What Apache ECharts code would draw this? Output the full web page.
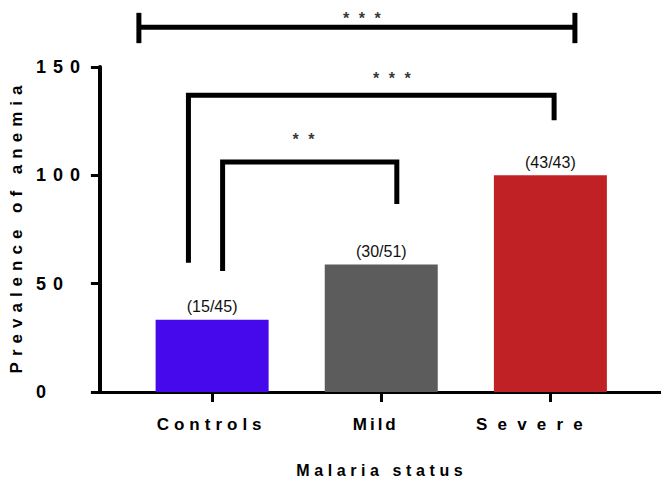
<!DOCTYPE html>
<html>
<head>
<meta charset="utf-8">
<script src="https://cdn.jsdelivr.net/npm/echarts@6/dist/echarts.min.js"></script>
<style>
  html, body { margin: 0; padding: 0; background: #fff; }
  #chart { width: 661px; height: 483px; }
</style>
</head>
<body>
<div id="chart"></div>
<script>
// ---- data ----
const categories = ['Controls', 'Mild', 'Severe'];
const anemicCounts = [15, 30, 43];
const groupTotals = [45, 51, 43];
const prevalence = [33.33, 58.82, 100];          // % anemic
const yTickValues = [0, 50, 100, 150];

// significance brackets, in data coordinates (x: category index, y: axis value)
const bracketLabels = ['***', '***', '**'];
const bracketPaths = [
  [ [[-0.433, 161], [-0.433, 175]], [[-0.433, 168.3], [2.145, 168.3]], [[2.145, 161], [2.145, 175]] ],
  [ [[-0.14, 59.7], [-0.14, 137.0], [2.022, 137.0], [2.022, 125.4]] ],
  [ [[0.062, 55.8], [0.062, 106.2], [1.092, 106.2], [1.092, 86.8]] ]
];
const bracketLabelAt = [[0.885, 172.2], [1.063, 144.6], [0.54, 116.7]];

// ---- styles ----
const barColors = ['#4609EB', '#5C5C5C', '#C02124'];
const FONT = '"Liberation Sans", Arial, Helvetica, sans-serif';

const chart = echarts.init(document.getElementById('chart'), null, { renderer: 'svg' });

const series = [];
series.push({
  type: 'bar',
  barWidth: 113,
  data: prevalence.map((v, i) => ({ value: [i, v], itemStyle: { color: barColors[i] } })),
  label: {
    show: true,
    position: 'top',
    distance: 5,
    fontFamily: FONT,
    fontSize: 16,
    color: '#111',
    formatter: p => '(' + anemicCounts[p.dataIndex] + '/' + groupTotals[p.dataIndex] + ')'
  },
  z: 2
});
bracketPaths.forEach(paths => {
  paths.forEach(seg => {
    series.push({
      type: 'line',
      data: seg,
      symbol: 'none',
      clip: false,
      silent: true,
      lineStyle: { color: '#000', width: 5, cap: 'butt', join: 'miter' },
      z: 3
    });
  });
});
series.push({
  type: 'scatter',
  symbolSize: 0,
  clip: false,
  silent: true,
  data: bracketLabelAt.map((p, i) => ({ value: [p[0], p[1]], name: bracketLabels[i] })),
  label: {
    show: true,
    position: 'inside',
    fontFamily: FONT,
    fontSize: 16,
    fontWeight: 'bold',
    color: '#000',
    formatter: p => p.name
  },
  z: 4
});

const axisText = { fontFamily: FONT, fontWeight: 'bold', color: '#000' };

chart.setOption({
  animation: false,
  textStyle: { fontFamily: FONT },
  grid: { left: 97, right: 0, top: 67, bottom: 87 },
  xAxis: {
    type: 'value',
    min: -0.6635,
    max: 2.654,
    name: 'Malaria status',
    nameLocation: 'middle',
    nameGap: 70,
    nameTextStyle: Object.assign({ fontSize: 16 }, axisText),
    axisLine: { show: true, onZero: false, lineStyle: { color: '#000', width: 3 } },
    axisTick: { show: true, customValues: [0, 1, 2], length: 10, lineStyle: { color: '#000', width: 3 } },
    axisLabel: Object.assign({ customValues: [0, 1, 2], fontSize: 17, margin: 24, formatter: v => categories[Math.round(v)] }, axisText),
    splitLine: { show: false }
  },
  yAxis: {
    type: 'value',
    min: yTickValues[0],
    max: yTickValues[yTickValues.length - 1],
    interval: yTickValues[1] - yTickValues[0],
    name: 'Prevalence of anemia',
    nameLocation: 'middle',
    nameGap: 67,
    nameTextStyle: Object.assign({ fontSize: 17 }, axisText),
    axisLine: { show: true, onZero: false, lineStyle: { color: '#000', width: 4 } },
    axisTick: { show: true, length: 9, lineStyle: { color: '#000', width: 3 } },
    axisLabel: Object.assign({ fontSize: 18, margin: 64, align: 'left' }, axisText),
    splitLine: { show: false }
  },
  series: series
});

// letter-spacing like the reference's spaced-out lettering: [spacing, horizontal shift]
const spacing = {
  'Controls': [5, -3], 'Mild': [3, -7], 'Severe': [10.2, -21],
  'Prevalence of anemia': [6, 0], 'Malaria status': [4.6, -1],
  '***': [9.5, 0], '**': [9.5, 0],
  '0': [7, 0], '50': [7, 0], '100': [7, 0], '150': [7, 0]
};
function applySpacing() {
  document.querySelectorAll('#chart svg text').forEach(t => {
    const s = spacing[t.textContent];
    if (s == null) return;
    t.setAttribute('letter-spacing', s[0]);
    const anchor = t.getAttribute('text-anchor') || getComputedStyle(t).textAnchor;
    const dx = (anchor === 'middle' ? s[0] / 2 : (anchor === 'end' ? s[0] : 0)) + s[1];
    t.setAttribute('dx', dx);
  });
}
applySpacing();
chart.on('finished', applySpacing);
setTimeout(applySpacing, 50);
</script>
</body>
</html>
